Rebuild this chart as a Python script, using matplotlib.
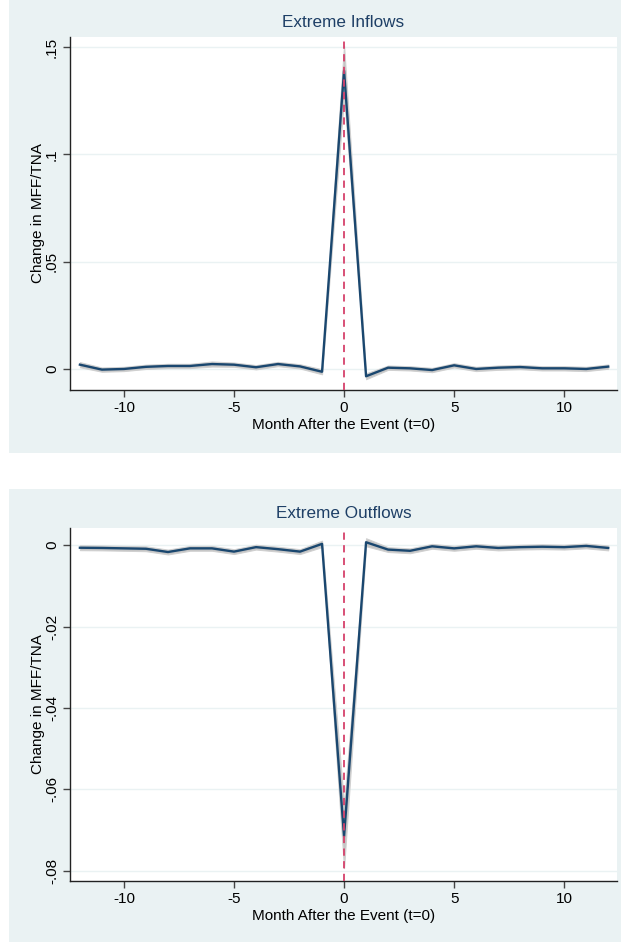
import matplotlib
matplotlib.use("Agg")
import matplotlib.pyplot as plt
import numpy as np
from matplotlib.patches import Rectangle

plt.rcParams["font.family"] = ["Liberation Sans", "DejaVu Sans"]

months = list(range(-12, 13))

inflow_mean = [0.0020, -0.0003, 0.0000, 0.0010, 0.0014, 0.0014, 0.0023, 0.0020,
               0.0008, 0.0023, 0.0012, -0.0013, 0.1390, -0.0034, 0.0006, 0.0003,
               -0.0005, 0.0017, 0.0000, 0.0006, 0.0009, 0.0003, 0.0003, 0.0000,
               0.0011]
inflow_se = [0.0006, 0.0005, 0.0005, 0.0005, 0.0005, 0.0005, 0.0006, 0.0005,
             0.0005, 0.0005, 0.0005, 0.0006, 0.0060, 0.0007, 0.0005, 0.0005,
             0.0005, 0.0005, 0.0005, 0.0005, 0.0005, 0.0005, 0.0005, 0.0005,
             0.0005]

outflow_mean = [-0.00065, -0.0007, -0.0008, -0.0009, -0.0017, -0.0008, -0.0008,
                -0.0016, -0.0005, -0.0010, -0.0016, 0.0003, -0.0715, 0.0007,
                -0.0011, -0.0014, -0.0003, -0.0008, -0.0003, -0.0007, -0.0005,
                -0.0004, -0.0005, -0.0002, -0.0007]
outflow_se = [0.0003, 0.0003, 0.0003, 0.0003, 0.0003, 0.0003, 0.0003, 0.0003,
              0.0003, 0.0003, 0.0003, 0.0004, 0.0040, 0.0005, 0.0003, 0.0003,
              0.0003, 0.0003, 0.0003, 0.0003, 0.0003, 0.0003, 0.0003, 0.0003,
              0.0003]

inflow_yticks = [0, 0.05, 0.1, 0.15]
inflow_ylabels = ["0", ".05", ".1", ".15"]
outflow_yticks = [0, -0.02, -0.04, -0.06, -0.08]
outflow_ylabels = ["0", "-.02", "-.04", "-.06", "-.08"]
xticks = [-10, -5, 0, 5, 10]

BG = "#eaf2f3"
NAVY = "#1a476f"
TITLE = "#1e3f66"
VLINE = "#d5416b"

W, H = 621, 942
fig = plt.figure(figsize=(W / 100, H / 100), dpi=100)
fig.patch.set_facecolor("white")

# panel backgrounds (pixel coords converted to figure fraction)
for top, bottom in [(0, 453), (489, 942)]:
    fig.patches.append(Rectangle((9 / W, 1 - bottom / H), (W - 9) / W,
                                 (bottom - top) / H, transform=fig.transFigure,
                                 facecolor=BG, edgecolor="none", zorder=-5))


def panel(rect, mean, se, yticks, ylabels, ylim, title):
    ax = fig.add_axes(rect)
    ax.set_facecolor("white")
    m = np.array(mean)
    s = np.array(se)
    ax.fill_between(months, m - 1.96 * s, m + 1.96 * s, color="#c4c4c4",
                    linewidth=0.8, edgecolor="#d0d0d0", zorder=2)
    ax.plot(months, m, color=NAVY, linewidth=1.7, zorder=3)
    ax.axvline(0, color=VLINE, linestyle=(0, (4, 3)), linewidth=1.3, zorder=4)
    ax.set_xlim(-12.45, 12.4)
    ax.set_ylim(*ylim)
    ax.set_xticks(xticks)
    ax.set_xticklabels([str(v) for v in xticks], fontsize=11)
    ax.set_yticks(yticks)
    ax.set_yticklabels(ylabels, fontsize=11, rotation=90, va="center")
    ax.grid(axis="y", color=BG, linewidth=1.0)
    ax.set_axisbelow(True)
    for side in ["top", "right"]:
        ax.spines[side].set_visible(False)
    for side in ["left", "bottom"]:
        ax.spines[side].set_color("#222222")
        ax.spines[side].set_linewidth(1.0)
    ax.tick_params(direction="out", length=5, width=1, color="#444444",
                   pad=3)
    ax.set_xlabel("Month After the Event (t=0)", fontsize=11, labelpad=2)
    ax.set_ylabel("Change in MFF/TNA", fontsize=11, labelpad=0)
    ax.set_title(title, fontsize=12.3, color=TITLE, pad=7)
    return ax


left = 70 / W
width = (617 - 70) / W
panel([left, 1 - 390 / H, width, (390 - 37) / H], inflow_mean, inflow_se,
      inflow_yticks, inflow_ylabels, (-0.0098, 0.1547), "Extreme Inflows")
panel([left, 1 - 881 / H, width, (881 - 528) / H], outflow_mean, outflow_se,
      outflow_yticks, outflow_ylabels, (-0.0825, 0.0042), "Extreme Outflows")

fig.savefig("out.png", dpi=100, facecolor=fig.get_facecolor())
